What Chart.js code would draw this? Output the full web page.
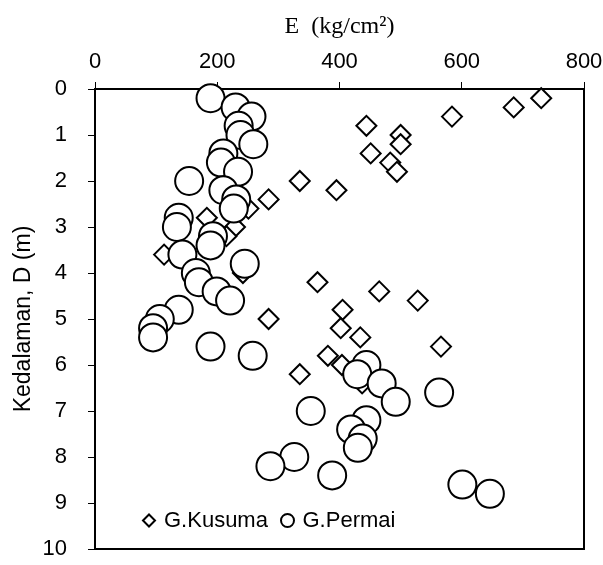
<!DOCTYPE html>
<html><head><meta charset="utf-8">
<script src="https://cdn.jsdelivr.net/npm/chart.js@4.4.0/dist/chart.umd.min.js"></script>
<style>html,body{margin:0;padding:0;background:#fff}#wrap{width:603px;height:565px;position:relative}</style>
</head><body><div id="wrap"><canvas id="c" width="603" height="565"></canvas></div>
<script>
const xTickValues = [0, 200, 400, 600, 800];
const yTickValues = [0, 1, 2, 3, 4, 5, 6, 7, 8, 9, 10];
const xTitle = 'E  (kg/cm\u00B2)';
const yTitle = 'Kedalaman, D (m)';
const seriesNames = ['G.Kusuma', 'G.Permai'];

const kusumaDepth = [0.2,0.4,0.6,0.8,1.0,1.2,1.4,1.6,1.8,2.0,2.2,2.4,2.6,2.8,3.0,3.2,3.6,4.0,4.2,4.4,4.6,4.8,5.0,5.2,5.4,5.6,5.8,6.0,6.2,6.4];
const kusumaE     = [730,685,584,444,500,500,451,483,494,335,395,284,251,183,229,215,113,242,364,465,528,405,284,402,434,566,381,404,335,437];

const permaiDepth = [0.2,0.4,0.6,0.8,1.0,1.2,1.4,1.6,1.8,2.0,2.2,2.4,2.6,2.8,3.0,3.2,3.4,3.6,3.8,4.0,4.2,4.4,4.6,4.8,5.0,5.2,5.4,5.6,5.8,6.0,6.2,6.4,6.6,6.8,7.0,7.2,7.4,7.6,7.8,8.0,8.2,8.4,8.6,8.8];
const permaiE     = [189,230,256,235,238,259,210,206,234,154,210,231,227,137,134,193,189,143,245,165,170,199,221,137,106,95,95,189,258,444,429,469,563,492,353,444,419,438,430,326,287,388,601,646];

const toPts = (xs, ys) => xs.map((v, i) => ({x: v, y: ys[i]}));
const SANS = "'Liberation Sans', Arial, sans-serif";
const SERIF = "'Liberation Serif', 'Times New Roman', serif";

const framePlugin = {
  id: 'frame',
  beforeDatasetsDraw(chart) {
    const {ctx, chartArea: a} = chart;
    ctx.save();
    ctx.strokeStyle = '#000';
    ctx.lineWidth = 2;
    ctx.strokeRect(a.left, a.top, a.right - a.left, a.bottom - a.top);
    ctx.restore();
  }
};

const legendPlugin = {
  id: 'insideLegend',
  afterDatasetsDraw(chart) {
    const {ctx, chartArea: a} = chart;
    const y = a.bottom - 28.5;
    ctx.save();
    ctx.strokeStyle = '#000';
    ctx.fillStyle = '#fff';
    ctx.lineWidth = 2;
    const dx = a.left + 54, r = 6;
    ctx.beginPath();
    ctx.moveTo(dx - r, y); ctx.lineTo(dx, y - r); ctx.lineTo(dx + r, y); ctx.lineTo(dx, y + r); ctx.closePath();
    ctx.fill(); ctx.stroke();
    const cx = a.left + 192.5;
    ctx.beginPath(); ctx.arc(cx, y, 6.5, 0, Math.PI * 2); ctx.fill(); ctx.stroke();
    ctx.fillStyle = '#000';
    ctx.font = '22px ' + SANS;
    ctx.textBaseline = 'middle';
    ctx.textAlign = 'left';
    ctx.fillText(seriesNames[0], a.left + 69, y);
    ctx.fillText(seriesNames[1], a.left + 207.5, y);
    ctx.restore();
  }
};

new Chart(document.getElementById('c'), {
  type: 'scatter',
  data: {
    datasets: [
      {label: seriesNames[0], data: toPts(kusumaE, kusumaDepth), pointStyle: 'rectRot', pointRadius: 10, borderWidth: 2, borderColor: '#000', backgroundColor: '#fff', order: 1, clip: false},
      {label: seriesNames[1], data: toPts(permaiE, permaiDepth), pointStyle: 'circle', pointRadius: 14, borderWidth: 2, borderColor: '#000', backgroundColor: '#fff', order: 0, clip: false}
    ]
  },
  options: {
    responsive: false,
    animation: false,
    devicePixelRatio: 1,
    events: [],
    layout: {padding: {left: 0, right: 19, top: 0, bottom: 13}},
    plugins: {legend: {display: false}, tooltip: {enabled: false}},
    scales: {
      x: {
        type: 'linear', position: 'top', min: 0, max: 800,
        afterBuildTicks: s => { s.ticks = xTickValues.map(v => ({value: v})); },
        afterFit: s => { s.height = 89; s.paddingLeft = 0; s.paddingRight = 0; },
        ticks: {color: '#000', font: {family: SANS, size: 22}, padding: 7, maxRotation: 0},
        grid: {drawOnChartArea: false, drawTicks: true, tickLength: 7, color: '#000', lineWidth: 1},
        border: {display: true, color: '#000', width: 2},
        title: {display: true, text: xTitle, color: '#000', font: {family: SERIF, size: 24}, padding: {top: 12, bottom: 0}}
      },
      y: {
        type: 'linear', position: 'left', reverse: true, min: 0, max: 10,
        afterBuildTicks: s => { s.ticks = yTickValues.map(v => ({value: v})); },
        afterFit: s => { s.width = 95; s.paddingTop = 0; s.paddingBottom = 0; },
        ticks: {color: '#000', font: {family: SANS, size: 22}, padding: 21},
        grid: {drawOnChartArea: false, drawTicks: true, tickLength: 7, color: '#000', lineWidth: 1},
        border: {display: true, color: '#000', width: 2},
        title: {display: true, text: yTitle, color: '#000', font: {family: SANS, size: 23}, padding: {top: 10, bottom: 0}}
      }
    }
  },
  plugins: [framePlugin, legendPlugin]
});
</script>
</body></html>
